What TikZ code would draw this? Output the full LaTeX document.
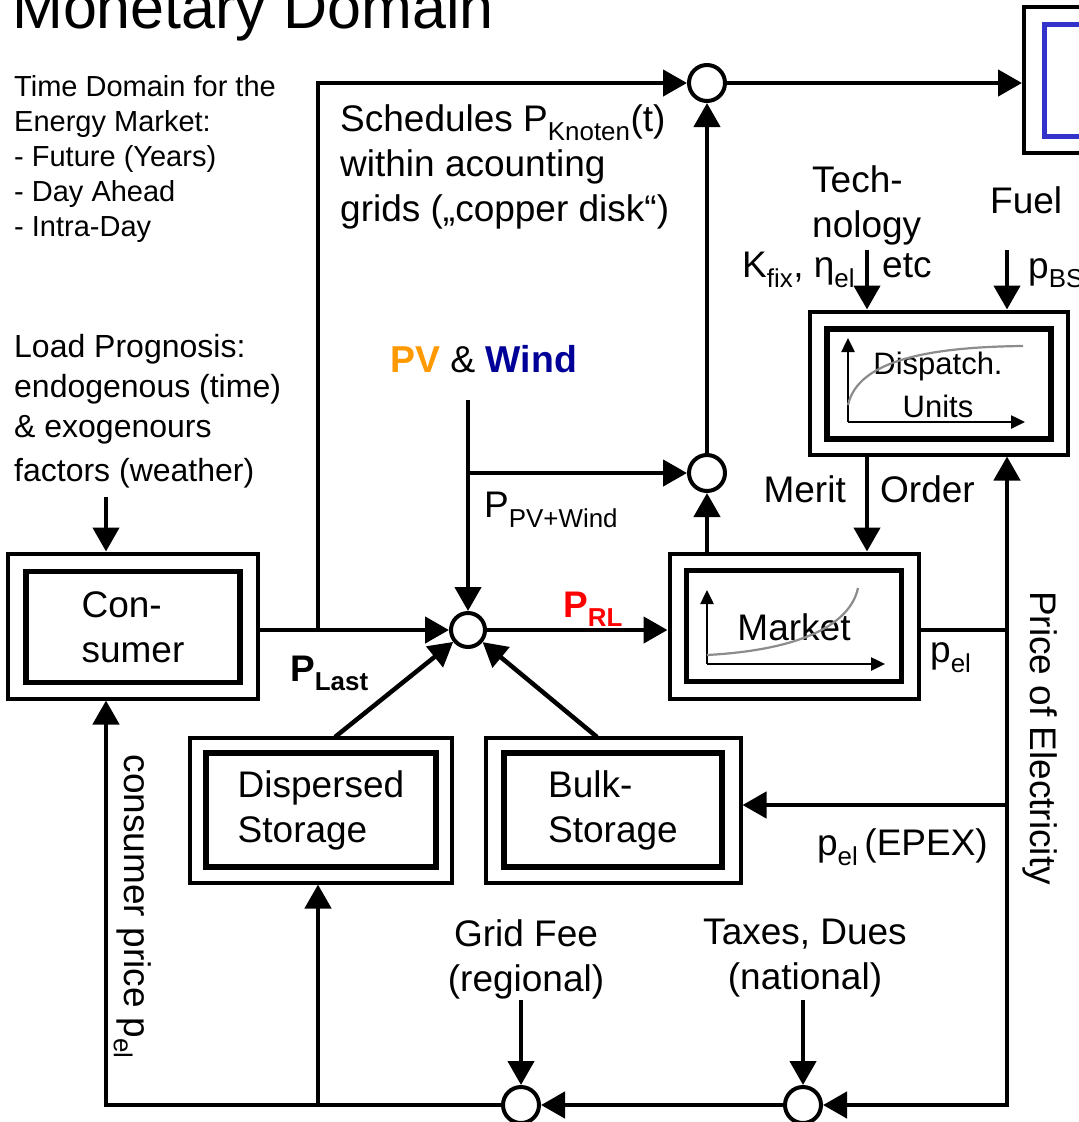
\documentclass[tikz,border=0pt]{standalone}
\usepackage{fontspec}
\setmainfont{Liberation Sans}
\usetikzlibrary{arrows.meta,calc}
\definecolor{pvor}{HTML}{FF9900}
\definecolor{windblue}{HTML}{000099}
\definecolor{boxblue}{HTML}{3333CC}
\definecolor{curvegray}{HTML}{8C8C8C}
\newcommand\fsz[2]{\fontsize{#1pt}{#2pt}\selectfont}
\begin{document}
\begin{tikzpicture}[x=1pt,y=-1pt,
 wire/.style={line width=4.5pt},
 conn/.style={wire, -{Triangle[length=24pt,width=26pt]}},
 summ/.style={circle, draw, line width=4pt, minimum size=36pt, inner sep=0pt, fill=white},
 outerbox/.style={draw, line width=4pt, inner sep=0pt, fill=white},
 innerbox/.style={draw, line width=5.5pt, inner sep=0pt},
 txt/.style={inner sep=0pt, font=\fsz{37}{45}},
 axis/.style={line width=2.5pt, -{Triangle[length=14pt,width=13pt]}},
 curvestyle/.style={line width=2.2pt, draw=curvegray},
]
\fill[white] (0,0) rectangle (1079,1122);
\useasboundingbox (0,0) rectangle (1079,1122);

% ---- boxes
\node[outerbox, minimum width=250pt, minimum height=145pt] (cons) at (133,626) {};
\node[innerbox, minimum width=214pt, minimum height=111pt, txt, align=left] (consin) at (133,627) {Con-\\sumer};

\node[outerbox, minimum width=249pt, minimum height=145pt] (mkt) at (794,626) {};
\node[innerbox, minimum width=215pt, minimum height=111pt] (mktin) at (794,626) {};
\draw[axis] (707,664) -- (707,590);
\draw[axis] (707,664) -- (885,664);
\node[txt] (mkttxt) at (794,627) {Market};
\draw[curvestyle] (707,655) .. controls (800,650) and (850,625) .. (858,588);

\node[outerbox, minimum width=258pt, minimum height=143pt] (disp) at (939,383) {};
\node[innerbox, minimum width=224pt, minimum height=110pt] (dispin) at (939,384) {};
\draw[axis] (848,422) -- (848,338);
\draw[axis] (848,422) -- (1025,422);
\node[inner sep=0pt, font=\fsz{31}{43}, align=center] (disptxt) at (938,385) {Dispatch.\\Units};
\draw[curvestyle] (848,405) .. controls (858,360) and (930,347) .. (1023,346);

\node[outerbox, minimum width=262pt, minimum height=145pt] (dispst) at (321,810) {};
\node[innerbox, minimum width=230pt, minimum height=114pt, txt, align=left] (dispstin) at (321,810) {Dispersed\\Storage};

\node[outerbox, minimum width=255pt, minimum height=145pt] (bulk) at (613,810) {};
\node[innerbox, minimum width=218pt, minimum height=114pt, txt, align=left] (bulkin) at (613,810) {Bulk-\\Storage};

\node[outerbox, minimum width=200pt, minimum height=146pt, anchor=north west] (tbox) at (1022,5) {};
\node[draw=boxblue, line width=5pt, inner sep=0pt, minimum width=150pt, minimum height=112pt, anchor=north west] (tboxin) at (1042,22) {};

% ---- summing points
\node[summ] (c1) at (707,83) {};
\node[summ] (c2) at (707,473) {};
\node[summ, minimum size=34pt] (cm) at (468,630) {};
\node[summ] (cb1) at (521,1105) {};
\node[summ] (cb2) at (803,1105) {};

% ---- free ends / junctions
\coordinate (jL) at (318,630);
\coordinate (pvtop) at (468,400);
\coordinate (pvj) at (468,473);
\coordinate (tk) at (867,250);
\coordinate (fu) at (1007,250);
\coordinate (pj) at (1007,630);
\coordinate (pe) at (1007,805);
\coordinate (pb) at (1007,1105);
\coordinate (pbx) at (1007,1107.25);
\coordinate (bl) at (106,1105);
\coordinate (bd) at (318,1105);
\coordinate (gf) at (521,1000);
\coordinate (tx) at (803,1000);
\coordinate (ld) at (106,497);
\coordinate (dA) at (335,737);
\coordinate (bA) at (597,737);

% ---- connectors
\draw[conn] (cons.east |- cm) -- (cm);
\draw[conn] (jL) -- (jL |- c1) -- (c1);
\draw[conn] (c1) -- (tbox.west |- c1);
\draw[conn] (c2) -- (c1);
\draw[conn] (c2 |- mkt.north) -- (c2);
\draw[conn] (pvtop) -- (cm);
\draw[conn] (pvj) -- (c2);
\draw[conn] (cm) -- (mkt.west |- cm);
\draw[conn] (dA) -- (cm);
\draw[conn] (bA) -- (cm);
\draw[conn] (tk) -- (tk |- disp.north);
\draw[conn] (fu) -- (fu |- disp.north);
\draw[conn] (tk |- disp.south) -- (tk |- mkt.north);
\draw[conn] (pbx) -- (pb |- disp.south);
\draw[wire] (mkt.east |- pj) -- (pj);
\draw[conn] (pe) -- (bulk.east |- pe);
\draw[conn] (pb) -- (cb2);
\draw[conn] (cb2) -- (cb1);
\draw[conn] (cb1) -- (bl) -- (bl |- cons.south);
\draw[conn] (bd) -- (bd |- dispst.south);
\draw[conn] (gf) -- (cb1);
\draw[conn] (tx) -- (cb2);
\draw[conn] (ld) -- (ld |- cons.north);

% ---- labels
\node[anchor=base west, inner sep=0pt, font=\fsz{61}{70}] (title) at (12,28) {Monetary Domain};
\node[anchor=north west, inner sep=0pt, align=left, font=\fsz{29}{35}] (timed) at (14,75) {Time Domain for the\\Energy Market:\\- Future (Years)\\- Day Ahead\\- Intra-Day};
\node[anchor=north west, txt, align=left] (sched) at (340,104) {Schedules P\textsubscript{Knoten}(t)\\within acounting\\grids („copper disk“)};
\node[anchor=north west, inner sep=0pt, align=left, font=\fsz{32}{40}] (loadp) at (14,334) {Load Prognosis:\\endogenous (time)\\\& exogenours\\[4pt]factors (weather)};
\node[anchor=base west, inner sep=0pt, font=\fsz{37.4}{44}] (pvw) at (390,372) {\textbf{\color{pvor}PV} \& \textbf{\color{windblue}Wind}};
\node[anchor=base west, txt] (ppv) at (484,517) {P\textsubscript{PV+Wind}};
\node[anchor=base west, txt, font=\fsz{37}{45}\bfseries] (plast) at (290,681) {P\textsubscript{Last}};
\node[anchor=base west, txt, font=\fsz{37}{45}\bfseries, text=red] (prl) at (563,617) {P\textsubscript{RL}};
\node[anchor=base east, txt] (merit) at (846,502) {Merit};
\node[anchor=base west, txt] (order) at (880,502) {Order};
\node[anchor=base west, txt] (pel) at (930,662) {p\textsubscript{el}};
\node[anchor=base, rotate=-90, txt] (poe) at (1030,738) {Price of Electricity};
\node[anchor=base, rotate=-90, txt] (cpp) at (124,907) {consumer price p\textsubscript{el}};
\node[anchor=base east, txt] (epex) at (988,855) {p\textsubscript{el}\,(EPEX)};
\node[anchor=north, txt, align=center] (grid) at (526,919) {Grid Fee\\(regional)};
\node[anchor=north, txt, align=center] (taxes) at (805,919) {Taxes, Dues\\(national)};
\node[anchor=north west, txt, align=left] (tech) at (812,165) {Tech-\\nology};
\node[anchor=base west, txt] (kfix) at (742,277) {K\textsubscript{fix}, η\textsubscript{el}};
\node[anchor=base west, txt] (etc) at (882,277) {etc};
\node[anchor=base west, txt] (fuel) at (990,213) {Fuel};
\node[anchor=base west, txt] (pbs) at (1028,278) {p\textsubscript{BS}};
\end{tikzpicture}
\end{document}
